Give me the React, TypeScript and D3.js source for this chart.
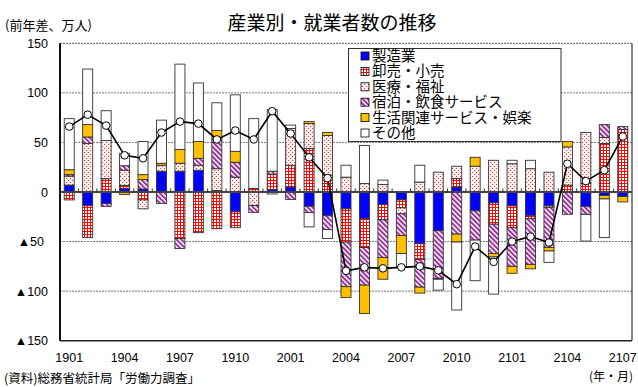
import React from 'react';
import * as d3 from 'd3';

const months = [
  '1901','1902','1903','1904','1905','1906','1907','1908','1909','1910','1911','1912',
  '2001','2002','2003','2004','2005','2006','2007','2008','2009','2010','2011','2012',
  '2101','2102','2103','2104','2105','2106','2107'
];
const xTickLabels = ['1901','1904','1907','1910','2001','2004','2007','2010','2101','2104','2107'];
const seriesNames = ['製造業','卸売・小売','医療・福祉','宿泊・飲食サービス','生活関連サービス・娯楽','その他'];

const manufacturing = [7,-13.5,-11.5,3.5,3,21,21,22,1.5,-20,0,2.5,5,-14.4,-24,-17,-27,-12.5,-8,-52,-39,5,-19,-11,-14,-24,-14,0,-14.5,-3.5,-4.5];
const wholesaleRetail = [-8,-32.5,13.5,3,-8,0,-47,-41,-37,-16,3.5,15.5,22,44,17,-33.5,-29,-15.5,-8,-16,0,8.5,0,-21.5,-22,-3,-1.5,7,9,49,63];
const medicalWelfare = [9,49,38.5,15.5,-9,6,8,5,22,15,-13.5,-2,37,25,40,15,8.5,7.5,-6,10,20,12.5,26,32,28.5,23.5,20,38.5,51,6,0];
const accommodationFood = [1.5,6.5,-3,4.5,9.5,-11.5,-10,7,30,15,-7,3,-7.5,-6.4,-14,-45,-38,-38,-22,-28,-48,-42.5,-29.5,-29.5,-39,-46,-40.5,-22.5,-8,13,3];
const lifestyleLeisure = [5,12.5,0,-2.5,5,2,14,17,8.5,11,0,0,0,2,3,-11,-28.5,-22,-18,-6,-1,-8,9,-3.5,-7,-4.5,-3.5,5.5,0,-3.5,-5.5];
const others = [51.5,56,30,12.5,33.5,43.5,86,59,28,57,70.5,62,3.5,-14.4,-9,12,38.5,4.5,-13,17,-11,-68.5,-41,-37.5,3.5,8.5,-11.5,0,-27,-39,0];
const totals = [66,78,67,37,34,60,71,69,53,62,53,81.5,59,35,14,-79.5,-76,-77,-76,-75,-79,-93,-55,-70.5,-50,-45,-51,28.5,11,22,56];
const yTicks = [150,100,50,0,-50,-100,-150];

const fills = ['#0000FF','url(#pGrid)','url(#pDots)','url(#pHatch)','#FFC000','#FFFFFF'];

const W = 638, H = 387;
const plotL = 60, plotR = 632, plotT = 43.3, plotB = 340.7;

export default function App() {
  const keys = ['m','r','h','a','l','o'];
  const seriesArrays = [manufacturing, wholesaleRetail, medicalWelfare, accommodationFood, lifestyleLeisure, others];
  const table = months.map((mo, i) => {
    const row: any = { month: mo };
    keys.forEach((k, j) => { row[k] = seriesArrays[j][i]; });
    return row;
  });
  const stacked = d3.stack().keys(keys).offset(d3.stackOffsetDiverging)(table);

  const x = d3.scaleBand().domain(months).range([plotL, plotR]).paddingInner(0).paddingOuter(0);
  const y = d3.scaleLinear().domain([-150, 150]).range([plotB, plotT]);
  const bw = 10;
  const cx = (m: string) => (x(m) as number) + x.bandwidth() / 2;

  const line = d3.line<number>().x((_, i) => cx(months[i])).y(d => y(d));

  const jp = '"Noto Sans CJK JP", "Noto Sans", sans-serif';
  const num = '"Liberation Sans", Arial, sans-serif';

  return (
    <svg width={W} height={H} style={{ position: 'absolute', left: 0, top: 0, background: '#fff' }}>
      <defs>
        <pattern id="pGrid" width="3" height="3" patternUnits="userSpaceOnUse">
          <rect width="3" height="3" fill="#fff" />
          <path d="M0,0.5H3M0.5,0V3" stroke="#ff0000" strokeWidth="1" />
        </pattern>
        <pattern id="pDots" width="4" height="4" patternUnits="userSpaceOnUse">
          <rect width="4" height="4" fill="#fff0f0" />
          <rect x="0" y="0" width="1" height="1" fill="#ee3333" />
          <rect x="2" y="2" width="1" height="1" fill="#ee3333" />
        </pattern>
        <pattern id="pHatch" width="3.5" height="3.5" patternUnits="userSpaceOnUse" patternTransform="rotate(-45)">
          <rect width="3.5" height="3.5" fill="#fff" />
          <rect width="2" height="3.5" fill="#993399" />
        </pattern>
      </defs>

      <text x={332} y={30} textAnchor="middle" fontFamily={jp} fontSize={19}>産業別・就業者数の推移</text>
      <text x={5} y={30} fontFamily={jp} fontSize={13}>(前年差、万人)</text>

      {/* gridlines */}
      {yTicks.filter(t => t !== 0 && Math.abs(t) !== 150).map(t => (
        <line key={t} x1={plotL} x2={plotR} y1={y(t)} y2={y(t)} stroke="#777" strokeWidth={1} strokeDasharray="2,1" />
      ))}
      <line x1={plotL} x2={plotR} y1={plotT} y2={plotT} stroke="#555" strokeWidth={1} strokeDasharray="2,1" />
      <line x1={plotR} x2={plotR} y1={plotT} y2={plotB} stroke="#333" strokeWidth={1.2} />
      <line x1={plotL} x2={plotR} y1={plotB} y2={plotB} stroke="#222" strokeWidth={1.5} />

      {/* y labels */}
      {yTicks.map(t => (
        <text key={t} x={t === -50 ? 44 : 48} y={y(t) + 4.5} textAnchor="end" fontFamily={num} fontSize={12.5}>
          {t < 0 ? '▲' + Math.abs(t) : String(t)}
        </text>
      ))}

      {/* bars */}
      {stacked.map((s, si) => (
        <g key={s.key}>
          {s.map((d, i) => {
            const y0 = y(d[0]), y1 = y(d[1]);
            const top = Math.min(y0, y1), h = Math.abs(y0 - y1);
            if (h < 0.01) return null;
            return (
              <rect key={i} x={cx(months[i]) - bw / 2} y={top} width={bw} height={h}
                fill={fills[si]} stroke="#333" strokeWidth={0.9} />
            );
          })}
        </g>
      ))}

      {/* zero line with ticks */}
      <line x1={plotL} x2={plotR} y1={y(0)} y2={y(0)} stroke="#444" strokeWidth={1.8} />
      {months.slice(1).map(m => (
        <line key={m} x1={x(m) as number} x2={x(m) as number} y1={y(0)} y2={y(0) - 3.5} stroke="#333" strokeWidth={1} />
      ))}

      {/* left axis */}
      <line x1={plotL} x2={plotL} y1={plotT} y2={plotB} stroke="#111" strokeWidth={2} />

      {/* total line */}
      <path d={line(totals) || ''} fill="none" stroke="#000" strokeWidth={1.6} />
      {totals.map((t, i) => (
        <circle key={i} cx={cx(months[i])} cy={y(t)} r={3.8} fill="#fff" stroke="#000" strokeWidth={1} />
      ))}

      {/* x labels */}
      {xTickLabels.map(l => (
        <text key={l} x={cx(l)} y={362} textAnchor="middle" fontFamily={num} fontSize={12.5}>{l}</text>
      ))}
      <text x={633} y={381} textAnchor="end" fontFamily={jp} fontSize={12}>(年・月)</text>
      <text x={4} y={383} fontFamily={jp} fontSize={12.5}>(資料)総務省統計局「労働力調査」</text>

      {/* legend */}
      <rect x={348.5} y={48.5} width={212.5} height={93} fill="#fff" stroke="#333" strokeWidth={1} />
      {seriesNames.map((n, i) => {
        const ry = 56 + i * 15.4;
        return (
          <g key={n}>
            <rect x={361} y={ry - 4} width={8} height={8} fill={fills[i]} stroke="#000" strokeWidth={0.8} />
            <text x={372} y={ry + 5} fontFamily={jp} fontSize={14.5}>{n}</text>
          </g>
        );
      })}
    </svg>
  );
}
